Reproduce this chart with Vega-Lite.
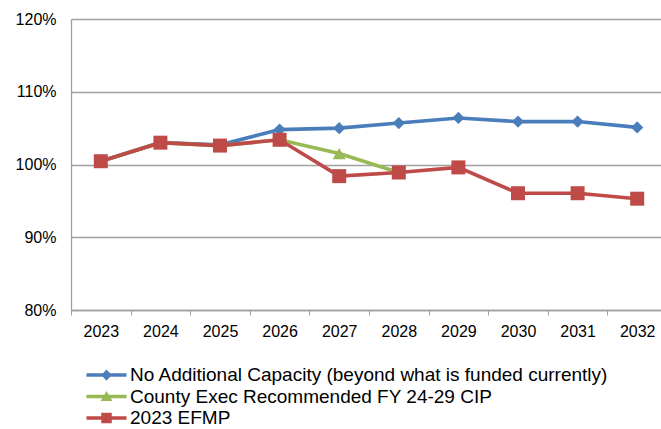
{
  "$schema": "https://vega.github.io/schema/vega-lite/v6.json",
  "autosize": {"type": "none"},
  "padding": {"left": 71, "top": 19, "right": 0, "bottom": 119},
  "width": 590,
  "height": 291,
  "background": "white",
  "config": {
    "font": "Liberation Sans",
    "view": {"stroke": null},
    "axis": {"labelFont": "Liberation Sans", "labelColor": "#000000", "labelFontSize": 16}
  },
  "data": {
    "values": [
      {"series": "No Additional Capacity (beyond what is funded currently)", "year": "2023", "ratio": 1.0045},
      {"series": "No Additional Capacity (beyond what is funded currently)", "year": "2024", "ratio": 1.030},
      {"series": "No Additional Capacity (beyond what is funded currently)", "year": "2025", "ratio": 1.027},
      {"series": "No Additional Capacity (beyond what is funded currently)", "year": "2026", "ratio": 1.048},
      {"series": "No Additional Capacity (beyond what is funded currently)", "year": "2027", "ratio": 1.050},
      {"series": "No Additional Capacity (beyond what is funded currently)", "year": "2028", "ratio": 1.057},
      {"series": "No Additional Capacity (beyond what is funded currently)", "year": "2029", "ratio": 1.064},
      {"series": "No Additional Capacity (beyond what is funded currently)", "year": "2030", "ratio": 1.059},
      {"series": "No Additional Capacity (beyond what is funded currently)", "year": "2031", "ratio": 1.059},
      {"series": "No Additional Capacity (beyond what is funded currently)", "year": "2032", "ratio": 1.051},
      {"series": "County Exec Recommended FY 24-29 CIP", "year": "2023", "ratio": 1.0045},
      {"series": "County Exec Recommended FY 24-29 CIP", "year": "2024", "ratio": 1.030},
      {"series": "County Exec Recommended FY 24-29 CIP", "year": "2025", "ratio": 1.026},
      {"series": "County Exec Recommended FY 24-29 CIP", "year": "2026", "ratio": 1.034},
      {"series": "County Exec Recommended FY 24-29 CIP", "year": "2027", "ratio": 1.015},
      {"series": "County Exec Recommended FY 24-29 CIP", "year": "2028", "ratio": 0.989},
      {"series": "2023 EFMP", "year": "2023", "ratio": 1.0045},
      {"series": "2023 EFMP", "year": "2024", "ratio": 1.030},
      {"series": "2023 EFMP", "year": "2025", "ratio": 1.026},
      {"series": "2023 EFMP", "year": "2026", "ratio": 1.034},
      {"series": "2023 EFMP", "year": "2027", "ratio": 0.984},
      {"series": "2023 EFMP", "year": "2028", "ratio": 0.989},
      {"series": "2023 EFMP", "year": "2029", "ratio": 0.996},
      {"series": "2023 EFMP", "year": "2030", "ratio": 0.9605},
      {"series": "2023 EFMP", "year": "2031", "ratio": 0.9605},
      {"series": "2023 EFMP", "year": "2032", "ratio": 0.953}
    ]
  },
  "encoding": {
    "x": {
      "field": "year",
      "type": "ordinal",
      "scale": {"type": "band", "paddingInner": 0, "paddingOuter": 0, "range": [0, 596]},
      "axis": {
        "title": null,
        "labelAngle": 0,
        "tickBand": "extent",
        "ticks": true,
        "tickSize": 5,
        "tickColor": "#a0a0a0",
        "domainColor": "#a0a0a0",
        "domainWidth": 1.3,
        "labelPadding": 8,
        "grid": false
      }
    },
    "y": {
      "field": "ratio",
      "type": "quantitative",
      "scale": {"domain": [0.8, 1.2], "nice": false, "zero": false},
      "axis": {
        "title": null,
        "values": [0.8, 0.9, 1.0, 1.1, 1.2],
        "format": ".0%",
        "ticks": false,
        "labelPadding": 15,
        "domainColor": "#a0a0a0",
        "domainWidth": 1.3,
        "grid": true,
        "gridColor": "#a0a0a0",
        "gridWidth": 1.3
      }
    },
    "color": {
      "field": "series",
      "type": "nominal",
      "sort": null,
      "scale": {
        "domain": ["No Additional Capacity (beyond what is funded currently)", "County Exec Recommended FY 24-29 CIP", "2023 EFMP"],
        "range": ["#4a7ebb", "#98b954", "#be4b48"]
      },
      "legend": {
        "title": null,
        "orient": "none",
        "legendX": 26,
        "legendY": 346.5,
        "labelFont": "Liberation Sans",
        "labelFontSize": 19,
        "labelColor": "#000000",
        "labelLimit": 0,
        "symbolSize": 225,
        "symbolStrokeWidth": 0,
        "labelOffset": 14,
        "rowPadding": 1.5
      }
    }
  },
  "layer": [
    {
      "mark": {"type": "line", "strokeWidth": 3.6},
      "encoding": {}
    },
    {
      "transform": [{"filter": "datum.series === 'No Additional Capacity (beyond what is funded currently)'"}],
      "mark": {"type": "point", "filled": true, "opacity": 1, "shape": "diamond", "size": 150},
      "encoding": {}
    },
    {
      "transform": [{"filter": "datum.series === 'County Exec Recommended FY 24-29 CIP'"}],
      "mark": {"type": "point", "filled": true, "opacity": 1, "shape": "triangle-up", "size": 169},
      "encoding": {}
    },
    {
      "transform": [{"filter": "datum.series === '2023 EFMP'"}],
      "mark": {"type": "point", "filled": true, "opacity": 1, "shape": "square", "size": 196},
      "encoding": {}
    },
    {
      "transform": [{"filter": "datum.ratio > 10"}],
      "mark": {"type": "point", "filled": true, "opacity": 1},
      "encoding": {
        "shape": {
          "field": "series",
          "type": "nominal",
          "scale": {
            "domain": ["No Additional Capacity (beyond what is funded currently)", "County Exec Recommended FY 24-29 CIP", "2023 EFMP"],
            "range": [
              "M-2.67,-0.23L2.67,-0.23L2.67,0.23L-2.67,0.23Z M0,-0.75L0.7,0L0,0.75L-0.7,0Z",
              "M-2.67,-0.23L2.67,-0.23L2.67,0.23L-2.67,0.23Z M0,-0.75L0.8,0.6L-0.8,0.6Z",
              "M-2.67,-0.23L2.67,-0.23L2.67,0.23L-2.67,0.23Z M-0.7,-0.7L0.7,-0.7L0.7,0.7L-0.7,0.7Z"
            ]
          }
        }
      }
    }
  ]
}
